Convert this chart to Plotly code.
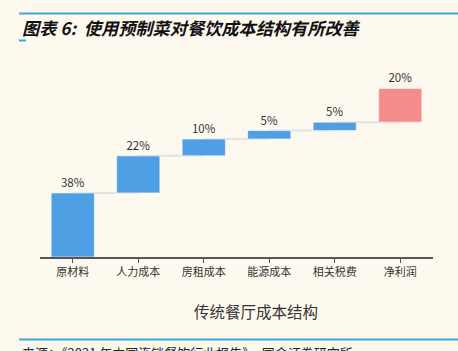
import plotly.graph_objects as go

categories = ["原材料", "人力成本", "房租成本", "能源成本", "相关税费", "净利润"]
values = [38, 22, 10, 5, 5, 20]
labels = ["38%", "22%", "10%", "5%", "5%", "20%"]
colors = ["#4f9fe4", "#4f9fe4", "#4f9fe4", "#4f9fe4", "#4f9fe4", "#f28d8c"]

bases = []
tops = []
acc = 0
for v in values:
    bases.append(acc)
    acc += v
    tops.append(acc)

W, H = 458, 351
ml, mr, mt, mb = 40, 25, 80, 94
ph = H - mt - mb
def py(p):
    return (H - mb - p) / ph
def px(p):
    return (p - ml) / (W - ml - mr)

FONT = "Noto Sans CJK SC"

fig = go.Figure()
fig.add_trace(go.Bar(
    x=list(range(len(categories))), y=values, base=bases,
    marker=dict(color=colors, line=dict(color="rgba(255,255,255,0.6)", width=1)),
    text=labels, textposition="outside", cliponaxis=False,
    textfont=dict(size=11.5, color="#333333", family=FONT),
    width=0.66, showlegend=False, hoverinfo="skip",
))

shapes = []
for i in range(len(values) - 1):
    shapes.append(dict(type="line", xref="x", yref="y", x0=i, x1=i + 1,
                       y0=tops[i], y1=tops[i], layer="below",
                       line=dict(color="#e3e3e3", width=2)))
# decorative lines
shapes.append(dict(type="line", xref="paper", yref="paper", x0=px(19), x1=px(458),
                   y0=py(13.5), y1=py(13.5), line=dict(color="#3ba9e2", width=2)))
shapes.append(dict(type="line", xref="paper", yref="paper", x0=px(19), x1=px(26),
                   y0=py(40.5), y1=py(40.5), line=dict(color="#3ba9e2", width=2)))
shapes.append(dict(type="line", xref="paper", yref="paper", x0=px(19), x1=px(458),
                   y0=py(339.5), y1=py(339.5), line=dict(color="#3ba9e2", width=2)))

annotations = [
    dict(text="<b><i>图表 6:  使用预制菜对餐饮成本结构有所改善</i></b>", xref="paper", yref="paper",
         x=px(20), y=py(27), xanchor="left", yanchor="middle", showarrow=False,
         font=dict(size=17.2, color="#111111", family=FONT)),
    dict(text="传统餐厅成本结构", xref="paper", yref="paper",
         x=px(256), y=py(311), xanchor="center", yanchor="middle", showarrow=False,
         font=dict(size=15.5, color="#333333", family=FONT)),
    dict(text="来源：《2021 年中国连锁餐饮行业报告》，国金证券研究所", xref="paper", yref="paper",
         x=px(20), y=py(352), xanchor="left", yanchor="middle", showarrow=False,
         font=dict(size=13, color="#222222", family=FONT)),
]

fig.update_layout(
    width=W, height=H,
    margin=dict(l=ml, r=mr, t=mt, b=mb),
    paper_bgcolor="#fef9ef", plot_bgcolor="#fef9ef",
    shapes=shapes, annotations=annotations,
    bargap=0.34,
    xaxis=dict(tickmode="array", tickvals=list(range(len(categories))), ticktext=categories,
               range=[-0.5, len(categories) - 0.5],
               showline=True, linecolor="#555555", linewidth=1.5,
               ticks="outside", ticklen=4, tickcolor="#555555", showgrid=False,
               tickfont=dict(size=11, color="#333333", family=FONT),
               fixedrange=True),
    yaxis=dict(range=[0, 105], visible=False, showgrid=False, fixedrange=True),
    font=dict(family=FONT),
)

fig.write_html("out.html")
